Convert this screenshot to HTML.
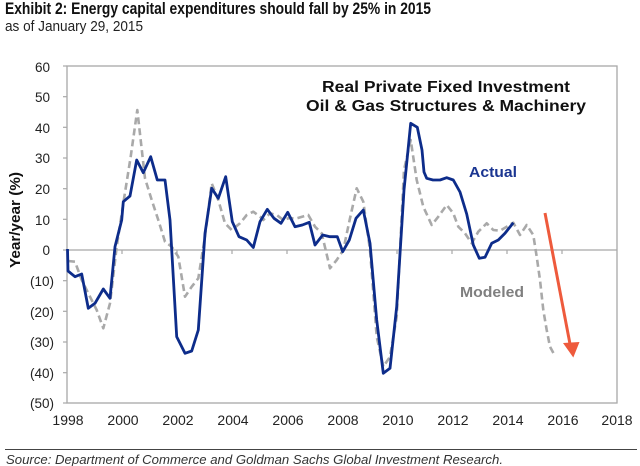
<!DOCTYPE html>
<html><head><meta charset="utf-8">
<style>
html,body{margin:0;padding:0;background:#fff;}
svg{display:block;}
text{font-family:"Liberation Sans",Arial,sans-serif;}
</style></head>
<body>
<svg width="640" height="466" viewBox="0 0 640 466" xmlns="http://www.w3.org/2000/svg">
<rect width="640" height="466" fill="#fff"/>
<!-- titles -->
<text x="5" y="14" font-size="17" font-weight="bold" fill="#111" textLength="426" lengthAdjust="spacingAndGlyphs">Exhibit 2: Energy capital expenditures should fall by 25% in 2015</text>
<text x="5" y="31" font-size="15" fill="#222" textLength="138" lengthAdjust="spacingAndGlyphs">as of January 29, 2015</text>

<!-- plot border -->
<rect x="67" y="66" width="550" height="337" fill="none" stroke="#a8a8a8" stroke-width="1.3"/>
<!-- y ticks -->
<g stroke="#a8a8a8" stroke-width="1.2">
<line x1="63" y1="66" x2="67" y2="66"/>
<line x1="63" y1="96.7" x2="67" y2="96.7"/>
<line x1="63" y1="127.3" x2="67" y2="127.3"/>
<line x1="63" y1="158" x2="67" y2="158"/>
<line x1="63" y1="188.7" x2="67" y2="188.7"/>
<line x1="63" y1="219.3" x2="67" y2="219.3"/>
<line x1="63" y1="250" x2="67" y2="250"/>
<line x1="63" y1="280.7" x2="67" y2="280.7"/>
<line x1="63" y1="311.3" x2="67" y2="311.3"/>
<line x1="63" y1="342" x2="67" y2="342"/>
<line x1="63" y1="372.7" x2="67" y2="372.7"/>
<line x1="63" y1="403" x2="67" y2="403"/>
<!-- zero line -->
<line x1="67" y1="250" x2="617" y2="250"/>
<line x1="122" y1="250" x2="122" y2="254"/>
<line x1="177" y1="250" x2="177" y2="254"/>
<line x1="232" y1="250" x2="232" y2="254"/>
<line x1="287" y1="250" x2="287" y2="254"/>
<line x1="342" y1="250" x2="342" y2="254"/>
<line x1="397" y1="250" x2="397" y2="254"/>
<line x1="452" y1="250" x2="452" y2="254"/>
<line x1="507" y1="250" x2="507" y2="254"/>
<line x1="562" y1="250" x2="562" y2="254"/>
</g>
<!-- y labels -->
<g font-size="13.5" fill="#222" text-anchor="end">
<text x="50" y="72">60</text>
<text x="50" y="102">50</text>
<text x="50" y="133">40</text>
<text x="50" y="163">30</text>
<text x="50" y="194">20</text>
<text x="50" y="225">10</text>
<text x="50" y="255">0</text>
<text x="54" y="286">(10)</text>
<text x="54" y="317">(20)</text>
<text x="54" y="347">(30)</text>
<text x="54" y="378">(40)</text>
<text x="54" y="408">(50)</text>
</g>
<!-- x labels -->
<g font-size="14" fill="#222" text-anchor="middle">
<text x="68" y="425">1998</text>
<text x="123" y="425">2000</text>
<text x="178" y="425">2002</text>
<text x="233" y="425">2004</text>
<text x="288" y="425">2006</text>
<text x="343" y="425">2008</text>
<text x="398" y="425">2010</text>
<text x="453" y="425">2012</text>
<text x="508" y="425">2014</text>
<text x="563" y="425">2016</text>
<text x="617" y="425">2018</text>
</g>
<!-- y axis title -->
<text transform="translate(20,220) rotate(-90)" font-size="14.5" font-weight="bold" fill="#111" text-anchor="middle" textLength="96" lengthAdjust="spacingAndGlyphs">Year/year (%)</text>

<!-- chart title -->
<text x="446" y="92" font-size="15.5" font-weight="bold" fill="#111" text-anchor="middle" textLength="248" lengthAdjust="spacingAndGlyphs">Real Private Fixed Investment</text>
<text x="446" y="111" font-size="15.5" font-weight="bold" fill="#111" text-anchor="middle" textLength="280" lengthAdjust="spacingAndGlyphs">Oil &amp; Gas Structures &amp; Machinery</text>

<!-- modeled -->
<polyline fill="none" stroke="#a9a9a9" stroke-width="2.6" stroke-dasharray="7,4" stroke-linejoin="round" points="
68,261 75,261.7 81.7,280 90,296.7 96.7,310 103.3,328.3 110,303.3 116.7,246.7 123.3,203.3 130.7,156.7 137.3,110 145,178.3 151.7,200 158.3,220 165,241.7 171.7,246.7 178.3,256.7 185,296.7 191.7,286.7 198.3,278.3 205,236.7 211.7,183.3 218.3,200 225,223.3 231.7,230 240,223.3 246.7,215 253.3,211.7 260,216.7 263.3,220 270,213.3 276.7,215 283.3,220 288.3,218.3 296.7,218.3 308.3,215 315,226.7 321.7,233.3 330,268.3 336.7,260 343.3,250 350,218.3 356.7,188.3 363.3,201.7 370,250 376.7,336.7 383.3,366.7 390,356.7 396.7,316.7 404,170 410.7,140 416.7,180 423.3,206.7 431.7,225 438.3,216.7 446.7,205 453.3,213.3 458.3,226.7 465,233.3 471.7,243.3 478.3,231.7 486.7,223.3 493.3,230 500,230.7 506.7,226.7 513.3,222.7 520,235 526.7,225 533.3,235 536.7,256.7 540,280 543.3,310 546.7,330 550,346.7 555,356"/>

<!-- actual -->
<polyline fill="none" stroke="#0d2c8a" stroke-width="2.8" stroke-linejoin="round" points="
67.5,249 68,271 75,276.7 81.7,274 88.3,308.3 95,303.3 103.3,289 110,298.3 115,246.7 121.7,220 123.3,201.7 130,196 136.7,160 143.3,172.7 150.7,156.7 157.3,180 165,180 170,220 176.7,336.7 185,353.3 191.7,351 198.3,330 205,233.3 211.7,188.3 218.3,198.3 225.7,176.7 232.3,221.7 239,236.7 246.7,240 253.3,247.5 260,221.7 267.3,209.3 274,218.3 281,223.3 287.7,212.3 295,226.7 302.3,225 309.3,222.3 315,245 322.7,235 330,236.7 337.3,236.7 342.7,251.7 349.3,240 356,218.3 363.3,210 370,243.3 376.7,320 383.3,373.3 390,368.3 396.7,306.7 404,190 410.7,123.3 417.3,127.3 422,150 424,172 426.7,178.3 433,180 440,180 446.7,177.7 453.3,180 460,192 466.7,214 473.3,245 479.3,258.3 485,257.3 491.7,243.3 498.3,240 505,233.3 513.3,222.7"/>

<!-- series labels -->
<text x="469" y="177" font-size="15" font-weight="bold" fill="#1a3591" textLength="48" lengthAdjust="spacingAndGlyphs">Actual</text>
<text x="460" y="297" font-size="15" font-weight="bold" fill="#7f7f7f" textLength="64" lengthAdjust="spacingAndGlyphs">Modeled</text>

<!-- red arrow -->
<line x1="545" y1="213" x2="570" y2="344" stroke="#ee5a3c" stroke-width="3"/>
<polygon points="563,343 579.5,342 573.3,357.5" fill="#ee5a3c"/>

<!-- source -->
<line x1="5" y1="449.5" x2="637" y2="449.5" stroke="#444" stroke-width="1"/>
<text x="6" y="464" font-size="13" font-style="italic" fill="#333" textLength="497" lengthAdjust="spacingAndGlyphs">Source: Department of Commerce and Goldman Sachs Global Investment Research.</text>
</svg>
</body></html>
